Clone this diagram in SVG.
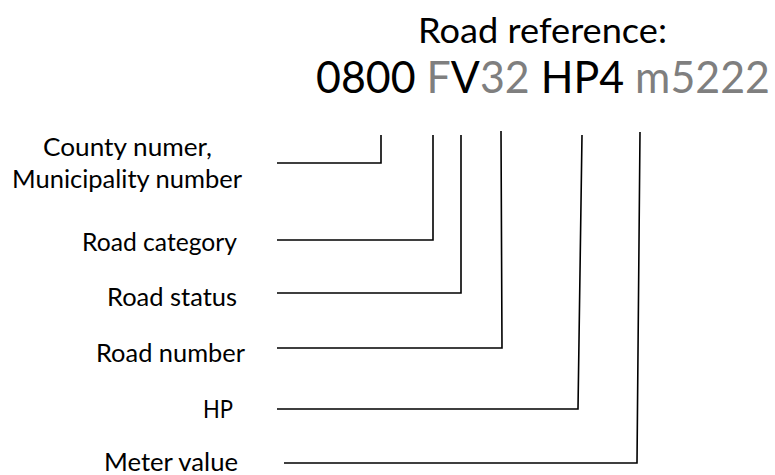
<svg xmlns="http://www.w3.org/2000/svg" width="775" height="475" viewBox="0 0 775 475">
  <style>
    text { font-family: Lato, "Liberation Sans", sans-serif; fill: #000; }
    .title { font-size: 34px; }
    .code { font-size: 43.5px; }
    .lbl { font-size: 25.5px; }
    .gray { fill: #7f7f7f; }
    .conn { fill: none; stroke: #000; stroke-width: 1.6; stroke-linejoin: miter; }
  </style>
  <rect width="775" height="475" fill="#fff"/>
  <g id="title">
    <text class="title" x="418" y="43" textLength="249" lengthAdjust="spacingAndGlyphs">Road reference:</text>
  </g>
  <g id="code">
    <text class="code" x="316" y="93" textLength="454" lengthAdjust="spacingAndGlyphs">0800 <tspan class="gray">F</tspan>V<tspan class="gray">32</tspan> HP4 <tspan class="gray">m5222</tspan></text>
  </g>
  <g id="county">
    <text class="lbl" x="43" y="156" textLength="169" lengthAdjust="spacingAndGlyphs">County numer,</text>
    <text class="lbl" x="12" y="188" textLength="230" lengthAdjust="spacingAndGlyphs">Municipality number</text>
  </g>
  <g id="category">
    <text class="lbl" x="82" y="251" textLength="155" lengthAdjust="spacingAndGlyphs">Road category</text>
  </g>
  <g id="status">
    <text class="lbl" x="107" y="306" textLength="130" lengthAdjust="spacingAndGlyphs">Road status</text>
  </g>
  <g id="number">
    <text class="lbl" x="96" y="362" textLength="149" lengthAdjust="spacingAndGlyphs">Road number</text>
  </g>
  <g id="hp">
    <text class="lbl" x="203" y="418" textLength="30" lengthAdjust="spacingAndGlyphs">HP</text>
  </g>
  <g id="meter">
    <text class="lbl" x="104" y="471" textLength="134" lengthAdjust="spacingAndGlyphs">Meter value</text>
  </g>
  <g id="connectors">
    <polyline class="conn" points="277,163 381,163 381,135"/>
    <polyline class="conn" points="277,240 433,240 433,135"/>
    <polyline class="conn" points="277,293 461,293 461,135"/>
    <polyline class="conn" points="277,348 502,348 501,131"/>
    <polyline class="conn" points="277,409 578,409 582,135"/>
    <polyline class="conn" points="284,463 637,463 640,132"/>
  </g>
</svg>
